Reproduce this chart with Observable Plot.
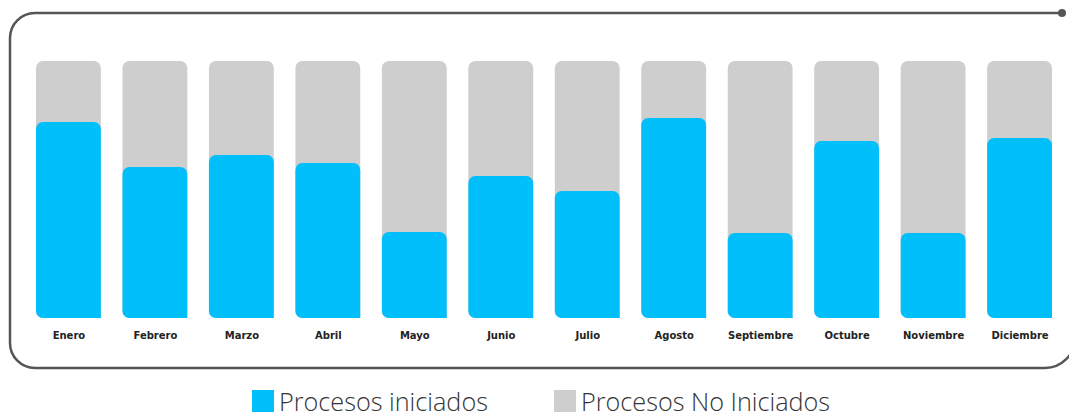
<!DOCTYPE html>
<html>
<head>
<meta charset="utf-8">
<script src="https://cdn.jsdelivr.net/npm/d3@7"></script>
<script src="https://cdn.jsdelivr.net/npm/@observablehq/plot@0.6"></script>
<style>
  html, body { margin: 0; padding: 0; background: #fff; overflow: hidden; }
  #chart { position: relative; width: 1069px; height: 370px; }
  #legend { position: relative; width: 1069px; height: 49px; overflow: hidden;
            font-family: "Open Sans", sans-serif; font-weight: 300; font-size: 26px; color: #333; }
  .sw { position: absolute; width: 22px; height: 22px; top: 20px; }
  .lab { position: absolute; top: 19px; line-height: 24px; white-space: nowrap;
         transform: scaleX(0.97); transform-origin: 0 50%; }
</style>
</head>
<body>
<div id="chart"></div>
<div id="legend"></div>
<script>
const months = ["Enero","Febrero","Marzo","Abril","Mayo","Junio","Julio","Agosto","Septiembre","Octubre","Noviembre","Diciembre"];
const iniciados = [76.3, 58.8, 63.4, 60.3, 33.5, 55.3, 49.4, 77.8, 33.1, 68.9, 33.1, 70.0];
const total = [100, 100, 100, 100, 100, 100, 100, 100, 100, 100, 100, 100];
const seriesNames = ["Procesos iniciados", "Procesos No Iniciados"];
const colors = ["#00BFFA", "#CECECE"];

const data = months.map((m, i) => ({month: m, ini: iniciados[i], tot: total[i]}));

const plot = Plot.plot({
  width: 1069,
  height: 370,
  marginLeft: 36,
  marginRight: 17,
  marginTop: 61,
  marginBottom: 52,
  x: {domain: months, paddingInner: 0.25, paddingOuter: 0, round: false, label: null},
  y: {domain: [0, 100], axis: null},
  style: {fontFamily: "DejaVu Sans, sans-serif"},
  marks: [
    Plot.barY(data, {x: "month", y: "tot", fill: colors[1], ry1: 7, rx1: 7}),
    Plot.barY(data, {x: "month", y: "ini", fill: colors[0], ry1: 7, rx1: 7}),
    Plot.axisX({tickSize: 0, tickPadding: 13, fontSize: 10, fontWeight: "bold", color: "#222", label: null})
  ]
});
document.getElementById("chart").appendChild(plot);

// decorative frame
const svg = d3.select(plot);
svg.append("path")
  .attr("d", "M1062,13 H35 A25,25 0 0 0 10,38 V343 A25,25 0 0 0 35,368 H1045 A30,30 0 0 0 1075,338")
  .attr("fill", "none").attr("stroke", "#555").attr("stroke-width", 2.5);
svg.append("circle").attr("cx", 1062).attr("cy", 13).attr("r", 4).attr("fill", "#555");

const legend = d3.select("#legend");
const lx = [252, 554];
seriesNames.forEach((n, i) => {
  legend.append("div").attr("class", "sw").style("left", lx[i] + "px").style("background", colors[i]);
  legend.append("div").attr("class", "lab").style("left", (lx[i] + 27) + "px").text(n);
});
</script>
</body>
</html>
